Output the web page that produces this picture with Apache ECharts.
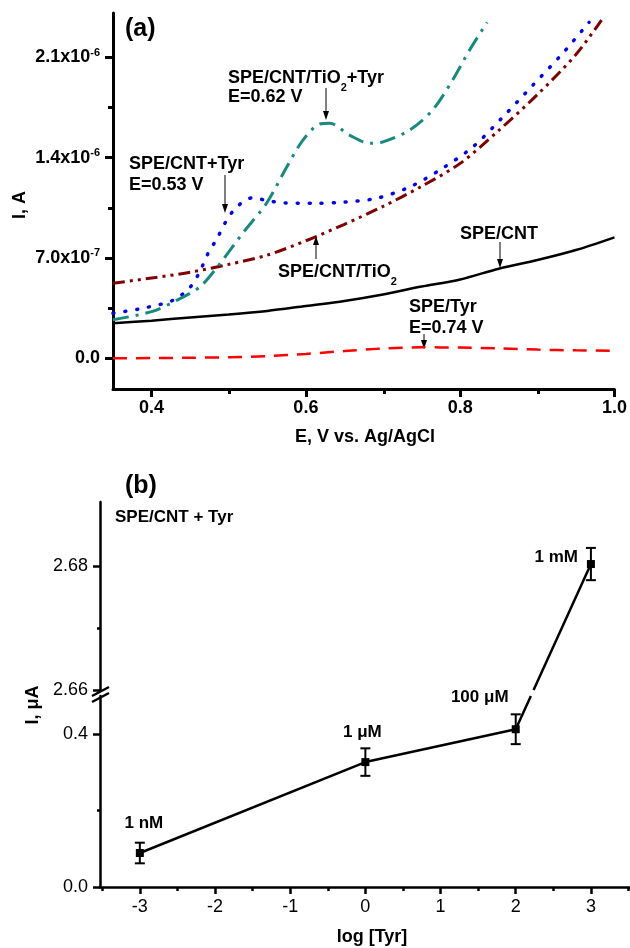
<!DOCTYPE html>
<html>
<head>
<meta charset="utf-8">
<script src="https://cdn.jsdelivr.net/npm/echarts@6/dist/echarts.min.js"></script>
<style>
html, body { margin: 0; padding: 0; background: #fff; }
#chart { width: 630px; height: 948px; }
</style>
</head>
<body>
<div id="chart"></div>
<script>
// ---- panel (a): E in V, I in units of 1e-7 A
const aSpeCnt = [[0.35,2.44],[0.40,2.62],[0.45,2.85],[0.50,3.05],[0.55,3.3],[0.60,3.65],[0.65,4.0],[0.70,4.45],[0.75,5.0],[0.80,5.5],[0.85,6.25],[0.90,6.85],[0.95,7.55],[1.0,8.44]];
const aSpeTyr = [[0.35,0],[0.40,0.01],[0.45,0.03],[0.50,0.07],[0.55,0.15],[0.60,0.3],[0.65,0.5],[0.70,0.68],[0.75,0.76],[0.80,0.74],[0.85,0.68],[0.90,0.6],[0.95,0.55],[1.0,0.52]];
const aSpeCntTiO2 = [[0.35,5.23],[0.40,5.6],[0.45,6.0],[0.50,6.55],[0.55,7.2],[0.60,8.2],[0.65,9.35],[0.70,10.6],[0.75,12.0],[0.80,13.6],[0.85,15.9],[0.90,18.4],[0.95,21.2],[0.987,23.9]];
const aSpeCntTyr = [[0.35,3.14],[0.389,3.49],[0.428,4.05],[0.45,4.96],[0.463,6.1],[0.473,7.3],[0.485,8.37],[0.495,9.42],[0.51,10.54],[0.531,11.2],[0.55,11.0],[0.57,10.85],[0.614,10.82],[0.65,10.9],[0.692,11.17],[0.734,11.94],[0.773,13.12],[0.816,14.73],[0.855,16.82],[0.894,19.05],[0.933,21.29],[0.967,23.45]];
const aSpeCntTiO2Tyr = [[0.35,2.68],[0.40,3.25],[0.433,4.05],[0.463,5.0],[0.489,6.63],[0.518,8.72],[0.549,10.82],[0.575,13.33],[0.596,15.21],[0.618,16.35],[0.631,16.4],[0.657,15.56],[0.683,15.0],[0.70,15.1],[0.734,15.91],[0.764,17.31],[0.79,19.4],[0.812,21.5],[0.835,23.45]];
const aXMajor = [0.4, 0.6, 0.8, 1.0];
const aXMinor = [0.5, 0.7, 0.9];
const aYMajor = [0, 7, 14, 21];
const aYMinor = [3.5, 10.5, 17.5];
const aYTickText = ['0.0', '7.0x10^-7', '1.4x10^-6', '2.1x10^-6'];

// ---- panel (b): log[Tyr], I in uA, broken y axis
const bLogTyr = [-3, 0, 2, 3];
const bCurrent = [0.089, 0.327, 0.413, 2.6803];
const bError = [0.027, 0.036, 0.039, 0.0026];
const bLabels = ['1 nM', '1 \u03bcM', '100 \u03bcM', '1 mM'];
const bXMajor = [-3, -2, -1, 0, 1, 2, 3];
const bXMinor = [-3.5, -2.5, -1.5, -0.5, 0.5, 1.5, 2.5, 3.5];
const bYLowMajor = [0, 0.4];
const bYLowMinor = [0.2];
const bYHighMajor = [2.66, 2.68];
const bYHighMinor = [2.67];
const bLowRange = [0, 0.5];
const bHighRange = [2.66, 2.6903];

const FONT = '"Liberation Sans", Arial, Helvetica, sans-serif';
const chart = echarts.init(document.getElementById('chart'));

const gA = {left: 113, top: 13, width: 503, height: 376};
const gBLow = {left: 100, top: 696, width: 530, height: 191};
const gBHigh = {left: 100, top: 502, width: 530, height: 188};

function mainAxis(gridIndex, min, max, ticks, tickLen, lineW, label) {
  return {
    type: 'value', gridIndex, min, max,
    axisLine: {show: true, onZero: false, lineStyle: {color: '#000', width: lineW}},
    axisTick: {show: true, customValues: ticks, length: tickLen, lineStyle: {color: '#000', width: lineW}},
    axisLabel: Object.assign({customValues: ticks, color: '#000', fontFamily: FONT}, label),
    splitLine: {show: false}
  };
}
function minorAxis(gridIndex, min, max, ticks, tickLen, lineW) {
  return {
    type: 'value', gridIndex, min, max,
    axisLine: {show: false, onZero: false},
    axisTick: {show: ticks.length > 0, customValues: ticks, length: tickLen, lineStyle: {color: '#000', width: lineW}},
    axisLabel: {show: false},
    splitLine: {show: false}
  };
}
function hiddenAxis(gridIndex, min, max) {
  return {type: 'value', gridIndex, min, max, show: false, axisLine: {onZero: false}, splitLine: {show: false}};
}

function aYFormat(v) {
  const k = aYMajor.findIndex(t => Math.abs(t - v) < 1e-6);
  if (k < 0) return '';
  const parts = aYTickText[k].split('^');
  return parts.length > 1 ? '{m|' + parts[0] + '}{s|' + parts[1] + '}' : '{m|' + parts[0] + '}';
}
function bYFormat(v) { return v.toFixed(v > 1 ? 2 : 1); }

function errorBarItem(params, api) {
  const x = api.value(0), y = api.value(1), e = api.value(2);
  const hi = api.coord([x, y + e]), lo = api.coord([x, y - e]);
  const w = 5, st = {stroke: '#000', lineWidth: 2};
  return {type: 'group', children: [
    {type: 'line', shape: {x1: hi[0], y1: hi[1], x2: lo[0], y2: lo[1]}, style: st},
    {type: 'line', shape: {x1: hi[0] - w, y1: hi[1], x2: hi[0] + w, y2: hi[1]}, style: st},
    {type: 'line', shape: {x1: lo[0] - w, y1: lo[1], x2: lo[0] + w, y2: lo[1]}, style: st}
  ]};
}

function arrow(x, yFrom, yTo) {
  const d = yTo > yFrom ? 1 : -1;
  return {type: 'group', children: [
    {type: 'line', shape: {x1: x, y1: yFrom, x2: x, y2: yTo - d * 6}, style: {stroke: '#000', lineWidth: 1}},
    {type: 'polygon', shape: {points: [[x - 3, yTo - d * 9], [x + 3, yTo - d * 9], [x, yTo]]}, style: {fill: '#000'}}
  ]};
}
const bold18 = 'bold 18px ' + FONT;
const bold17 = 'bold 17px ' + FONT;
const subRich = {
  t: {font: bold18, lineHeight: 18, verticalAlign: 'middle'},
  s: {font: 'bold 11px ' + FONT, lineHeight: 30, verticalAlign: 'bottom'}
};
function label(text, x, y, opts) {
  return {type: 'text', x, y, style: Object.assign({text, font: bold18, fill: '#000', align: 'left', verticalAlign: 'middle'}, opts || {})};
}

// split panel (b) points on either side of the break
const lowIdx = bCurrent.map((v, i) => i).filter(i => bCurrent[i] < bLowRange[1]);
const highIdx = bCurrent.map((v, i) => i).filter(i => bCurrent[i] >= bHighRange[0]);
const bLabelPlace = [
  {position: 'top', offset: [4, -12]},
  {position: 'top', offset: [-3, -12]},
  {position: 'top', offset: [-36, -14]},
  {position: 'left', distance: 9, offset: [0, -7]}
];
function scatterData(idx) {
  return idx.map(i => ({value: [bLogTyr[i], bCurrent[i]], label: bLabelPlace[i]}));
}
const pointLabel = {show: true, color: '#000', fontFamily: FONT, fontSize: 17, fontWeight: 'bold'};

const option = {
  backgroundColor: '#fff',
  animation: false,
  grid: [gA, gA, gBLow, gBLow, gBHigh, gBHigh],
  xAxis: [
    mainAxis(0, 0.35, 1.0, aXMajor, 8, 3, {fontSize: 18, fontWeight: 'bold', margin: 10, formatter: v => v.toFixed(1)}),
    minorAxis(1, 0.35, 1.0, aXMinor, 5, 3),
    mainAxis(2, -3.53, 3.52, bXMajor, 7, 2.5, {fontSize: 18, margin: 11, formatter: v => String(v)}),
    minorAxis(3, -3.53, 3.52, bXMinor, 4, 2.5),
    hiddenAxis(4, -3.53, 3.52),
    hiddenAxis(5, -3.53, 3.52)
  ],
  yAxis: [
    mainAxis(0, -2.15, 24.1, aYMajor, 8, 3, {margin: 13, formatter: aYFormat,
      rich: {m: {fontFamily: FONT, fontSize: 18, fontWeight: 'bold', lineHeight: 20, verticalAlign: 'middle'},
             s: {fontFamily: FONT, fontSize: 11, fontWeight: 'bold', lineHeight: 20, verticalAlign: 'top'}}}),
    minorAxis(1, -2.15, 24.1, aYMinor, 5, 3),
    mainAxis(2, bLowRange[0], bLowRange[1], bYLowMajor, 7, 2.5, {fontSize: 18, margin: 12, formatter: bYFormat}),
    minorAxis(3, bLowRange[0], bLowRange[1], bYLowMinor, 3, 2.5),
    mainAxis(4, bHighRange[0], bHighRange[1], bYHighMajor, 7, 2.5, {fontSize: 18, margin: 12, formatter: bYFormat}),
    minorAxis(5, bHighRange[0], bHighRange[1], bYHighMinor, 3, 2.5)
  ],
  series: [
    {type: 'line', xAxisIndex: 0, yAxisIndex: 0, data: aSpeTyr, symbol: 'none', smooth: 0.3,
     lineStyle: {color: '#ff0000', width: 2.5, type: [14, 9]}},
    {type: 'line', xAxisIndex: 0, yAxisIndex: 0, data: aSpeCnt, symbol: 'none', smooth: 0.3,
     lineStyle: {color: '#000', width: 2.5}},
    {type: 'line', xAxisIndex: 0, yAxisIndex: 0, data: aSpeCntTiO2, symbol: 'none', smooth: 0.3,
     lineStyle: {color: '#800000', width: 3, type: [12, 5, 3, 5, 3, 5]}},
    {type: 'line', xAxisIndex: 0, yAxisIndex: 0, data: aSpeCntTyr, symbol: 'none', smooth: 0.3,
     lineStyle: {color: '#0000ff', width: 3.5, type: [1, 11], cap: 'round'}},
    {type: 'line', xAxisIndex: 0, yAxisIndex: 0, data: aSpeCntTiO2Tyr, symbol: 'none', smooth: 0.3,
     lineStyle: {color: '#178a80', width: 3, type: [16, 7, 3, 7]}},

    {id: 'bLowLine', type: 'line', xAxisIndex: 2, yAxisIndex: 2, symbol: 'none',
     data: lowIdx.map(i => [bLogTyr[i], bCurrent[i]]), lineStyle: {color: '#000', width: 2.5}},
    {id: 'bHighLine', type: 'line', xAxisIndex: 4, yAxisIndex: 4, symbol: 'none',
     data: highIdx.map(i => [bLogTyr[i], bCurrent[i]]), lineStyle: {color: '#000', width: 2.5}},
    {type: 'custom', xAxisIndex: 2, yAxisIndex: 2, renderItem: errorBarItem, clip: false, z: 3,
     encode: {x: 0, y: 1}, data: lowIdx.map(i => [bLogTyr[i], bCurrent[i], bError[i]])},
    {type: 'custom', xAxisIndex: 4, yAxisIndex: 4, renderItem: errorBarItem, clip: false, z: 3,
     encode: {x: 0, y: 1}, data: highIdx.map(i => [bLogTyr[i], bCurrent[i], bError[i]])},
    {type: 'scatter', xAxisIndex: 2, yAxisIndex: 2, symbol: 'rect', symbolSize: 8, z: 4,
     itemStyle: {color: '#000', opacity: 1}, data: scatterData(lowIdx),
     label: Object.assign({formatter: p => bLabels[lowIdx[p.dataIndex]]}, pointLabel)},
    {type: 'scatter', xAxisIndex: 4, yAxisIndex: 4, symbol: 'rect', symbolSize: 8, z: 4,
     itemStyle: {color: '#000', opacity: 1}, data: scatterData(highIdx),
     label: Object.assign({formatter: p => bLabels[highIdx[p.dataIndex]]}, pointLabel)}
  ],
  graphic: [
    // panel (a) texts
    label('(a)', 125, 29, {font: 'bold 25px ' + FONT}),
    {type: 'text', x: 20, y: 205, rotation: Math.PI / 2,
     style: {text: 'I, A', font: bold18, fill: '#000', align: 'center', verticalAlign: 'middle'}},
    label('E, V vs. Ag/AgCl', 365, 437, {align: 'center'}),
    label('{t|SPE/CNT/TiO}{s|2}{t|+Tyr}', 228, 78, {rich: subRich}),
    label('E=0.62 V', 228, 97),
    arrow(326, 88, 120),
    label('SPE/CNT+Tyr', 129, 164),
    label('E=0.53 V', 129, 185),
    arrow(225, 175, 213),
    label('{t|SPE/CNT/TiO}{s|2}', 278, 272, {rich: subRich}),
    arrow(316, 259, 236),
    label('SPE/CNT', 460, 234),
    arrow(500, 242, 268),
    label('SPE/Tyr', 409, 307),
    label('E=0.74 V', 409, 328),
    arrow(424, 334, 349),
    // panel (b) texts
    label('(b)', 125, 486, {font: 'bold 25px ' + FONT}),
    label('SPE/CNT + Tyr', 115, 517, {font: bold17}),
    {type: 'text', x: 33, y: 705, rotation: Math.PI / 2,
     style: {text: 'I, \u03bcA', font: bold18, fill: '#000', align: 'center', verticalAlign: 'middle'}},
    label('log [Tyr]', 372, 937, {align: 'center'}),
    // axis break marks
    {type: 'line', shape: {x1: 92, y1: 696, x2: 109, y2: 687}, style: {stroke: '#000', lineWidth: 2.5}},
    {type: 'line', shape: {x1: 92, y1: 702, x2: 109, y2: 693}, style: {stroke: '#000', lineWidth: 2.5}}
  ]
};
chart.setOption(option);

// join the last point below the break to the first point above it,
// cutting the segment at the edges of both axis pieces
function bridge() {
  const i = lowIdx[lowIdx.length - 1], j = highIdx[0];
  const p1 = chart.convertToPixel({gridIndex: 2}, [bLogTyr[i], bCurrent[i]]);
  const p2 = chart.convertToPixel({gridIndex: 4}, [bLogTyr[j], bCurrent[j]]);
  const yLowTop = chart.convertToPixel({gridIndex: 2}, [0, bLowRange[1]])[1];
  const yHighBot = chart.convertToPixel({gridIndex: 4}, [0, bHighRange[0]])[1];
  const xAt = y => p1[0] + (p2[0] - p1[0]) * (p1[1] - y) / (p1[1] - p2[1]);
  const lowEnd = chart.convertFromPixel({gridIndex: 2}, [xAt(yLowTop), yLowTop]);
  const highStart = chart.convertFromPixel({gridIndex: 4}, [xAt(yHighBot), yHighBot]);
  chart.setOption({series: [
    {id: 'bLowLine', data: lowIdx.map(k => [bLogTyr[k], bCurrent[k]]).concat([lowEnd])},
    {id: 'bHighLine', data: [highStart].concat(highIdx.map(k => [bLogTyr[k], bCurrent[k]]))}
  ]});
}
bridge();
</script>
</body>
</html>
